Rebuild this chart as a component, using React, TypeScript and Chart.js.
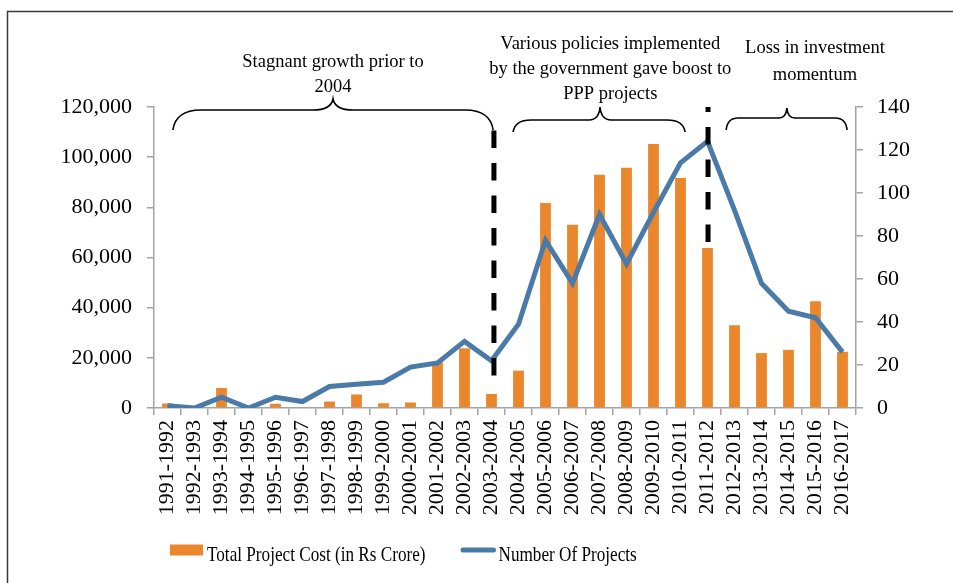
import React, { useEffect, useRef } from 'react';
import { Chart, registerables } from 'chart.js';

Chart.register(...registerables);

const categories = [
  '1991-1992', '1992-1993', '1993-1994', '1994-1995', '1995-1996', '1996-1997',
  '1997-1998', '1998-1999', '1999-2000', '2000-2001', '2001-2002', '2002-2003',
  '2003-2004', '2004-2005', '2005-2006', '2006-2007', '2007-2008', '2008-2009',
  '2009-2010', '2010-2011', '2011-2012', '2012-2013', '2013-2014', '2014-2015',
  '2015-2016', '2016-2017',
];

const projectCost = [
  1800, 0, 8000, 0, 1700, 0, 2600, 5400, 1900, 2200, 18300, 23800,
  5600, 14900, 81700, 73100, 93000, 95800, 105200, 91700, 63800, 33000,
  21900, 23200, 42600, 22400,
];

const projectCount = [
  1, 0, 5, 0, 5, 3, 10, 11, 12, 19, 21, 31,
  22, 39, 78, 58, 90, 67, 91, 114, 124, 92,
  58, 45, 42, 26,
];

const seriesLabels = ['Total Project Cost (in Rs Crore)', 'Number Of Projects'];

// Annotation texts (category position of centre, baseline offset above plot top)
const noteLines = [
  { text: 'Stagnant growth prior to', at: 6.13, dy: -40 },
  { text: '2004', at: 6.13, dy: -15 },
  { text: 'Various policies implemented', at: 16.4, dy: -58 },
  { text: 'by the government gave boost to', at: 16.4, dy: -33 },
  { text: 'PPP projects', at: 16.4, dy: -8 },
  { text: 'Loss in investment', at: 23.98, dy: -54 },
  { text: 'momentum', at: 23.98, dy: -27 },
];

// Braces: [start, tip, end] in category units; pixel offsets from plot top
const braces = [
  { from: 0.2, tip: 6.13, to: 12.06, tipY: -8, flatY: 3, endY: 23, rEnd: 28, rTip: 20 },
  { from: 12.8, tip: 16.02, to: 19.17, tipY: 0, flatY: 13, endY: 25, rEnd: 18, rTip: 11 },
  { from: 20.69, tip: 22.94, to: 25.17, tipY: 1, flatY: 11, endY: 23, rEnd: 12, rTip: 8 },
];

// Dashed separators: category position, top/bottom values on the cost axis
const separators = [
  { at: 12.09, top: 110600, bottom: 12300, offset: 0 },
  { at: 20.02, top: 120000, bottom: 66200, offset: 12.5 },
];

const FONT = "'Liberation Serif', 'Times New Roman', serif";
const BAR_COLOR = '#EA862B';
const LINE_COLOR = '#4A7AA8';
const AXIS_COLOR = '#A3A3A3';
const LEGEND_SQUEEZE = 0.78;

function condensedText(ctx: CanvasRenderingContext2D, text: string, x: number, y: number) {
  ctx.save();
  ctx.translate(x, y);
  ctx.scale(LEGEND_SQUEEZE, 1);
  ctx.fillText(text, 0, 0);
  ctx.restore();
  return ctx.measureText(text).width * LEGEND_SQUEEZE;
}

const decorPlugin = {
  id: 'decor',
  afterDatasetsDraw(chart: any) {
    const { ctx, chartArea, scales } = chart;
    const x = scales.x;
    const y = scales.y;
    ctx.save();
    // dashed separators
    ctx.strokeStyle = '#000';
    ctx.lineWidth = 5;
    ctx.lineCap = 'butt';
    ctx.setLineDash([17.5, 15]);
    for (const s of separators) {
      const px = x.getPixelForValue(s.at);
      ctx.lineDashOffset = s.offset;
      ctx.beginPath();
      ctx.moveTo(px, y.getPixelForValue(s.top));
      ctx.lineTo(px, y.getPixelForValue(s.bottom));
      ctx.stroke();
    }
    ctx.setLineDash([]);

    // braces
    ctx.strokeStyle = '#000';
    ctx.lineWidth = 1.6;
    for (const b of braces) {
      const x1 = x.getPixelForValue(b.from);
      const xm = x.getPixelForValue(b.tip);
      const x2 = x.getPixelForValue(b.to);
      const ty = chartArea.top + b.tipY;
      const fy = chartArea.top + b.flatY;
      const ey = chartArea.top + b.endY;
      ctx.beginPath();
      ctx.moveTo(x1, ey);
      ctx.quadraticCurveTo(x1 + b.rEnd * 0.1, fy, x1 + b.rEnd, fy);
      ctx.lineTo(xm - b.rTip, fy);
      ctx.quadraticCurveTo(xm - b.rTip * 0.1, fy, xm, ty);
      ctx.quadraticCurveTo(xm + b.rTip * 0.1, fy, xm + b.rTip, fy);
      ctx.lineTo(x2 - b.rEnd, fy);
      ctx.quadraticCurveTo(x2 - b.rEnd * 0.1, fy, x2, ey);
      ctx.stroke();
    }

    // notes
    ctx.fillStyle = '#000';
    ctx.font = `18.5px ${FONT}`;
    ctx.textAlign = 'center';
    ctx.textBaseline = 'alphabetic';
    for (const n of noteLines) {
      ctx.fillText(n.text, x.getPixelForValue(n.at), chartArea.top + n.dy);
    }

    // legend
    const ds = chart.data.datasets;
    ctx.font = `22px ${FONT}`;
    ctx.textAlign = 'left';
    const ly = 550;
    let lx = 170;
    ctx.fillStyle = ds[0].backgroundColor;
    ctx.fillRect(lx, ly - 5.5, 33, 11);
    ctx.fillStyle = '#000';
    const w0 = condensedText(ctx, ds[0].label, lx + 37, 561);
    lx = lx + 37 + w0 + 35;
    ctx.strokeStyle = ds[1].borderColor;
    ctx.lineWidth = 5;
    ctx.lineCap = 'round';
    ctx.beginPath();
    ctx.moveTo(lx + 2.5, ly);
    ctx.lineTo(lx + 33, ly);
    ctx.stroke();
    ctx.fillStyle = '#000';
    condensedText(ctx, ds[1].label, lx + 38, 561);

    // outer frame
    ctx.strokeStyle = '#3a3a3a';
    ctx.lineWidth = 1.5;
    ctx.lineCap = 'butt';
    ctx.beginPath();
    ctx.moveTo(7.5, chart.height);
    ctx.lineTo(7.5, 11.5);
    ctx.lineTo(chart.width, 11.5);
    ctx.stroke();
    ctx.restore();
  },
};

export default function App() {
  const ref = useRef<HTMLCanvasElement>(null);

  useEffect(() => {
    const tickFont = { family: FONT, size: 22 };
    const chart = new Chart(ref.current as HTMLCanvasElement, {
      type: 'bar',
      data: {
        labels: categories,
        datasets: [
          {
            type: 'bar',
            label: seriesLabels[0],
            data: projectCost,
            backgroundColor: BAR_COLOR,
            borderWidth: 0,
            yAxisID: 'y',
            barPercentage: 0.4,
            categoryPercentage: 1,
            order: 1,
          },
          {
            type: 'line',
            label: seriesLabels[1],
            data: projectCount,
            borderColor: LINE_COLOR,
            backgroundColor: LINE_COLOR,
            borderWidth: 5,
            pointRadius: 0,
            tension: 0,
            borderJoinStyle: 'miter',
            yAxisID: 'y1',
            order: 0,
          },
        ] as any,
      },
      options: {
        responsive: false,
        animation: false,
        layout: { padding: { top: 107, left: 0, right: 0, bottom: 0 } },
        plugins: {
          legend: { display: false },
          tooltip: { enabled: false },
          title: { display: false },
        },
        scales: {
          x: {
            offset: true,
            grid: {
              display: true,
              offset: true,
              drawOnChartArea: false,
              drawTicks: true,
              tickLength: 7,
              color: AXIS_COLOR,
              lineWidth: 1.5,
            },
            border: { display: true, color: AXIS_COLOR, width: 1.5 },
            ticks: {
              autoSkip: false,
              minRotation: 90,
              maxRotation: 90,
              padding: 5,
              color: '#000',
              font: tickFont,
            },
            afterFit: (s: any) => {
              s.height = 175;
            },
          },
          y: {
            position: 'left',
            min: 0,
            max: 120000,
            grid: {
              drawOnChartArea: false,
              drawTicks: true,
              tickLength: 7,
              color: AXIS_COLOR,
              lineWidth: 1.5,
            },
            border: { display: true, color: AXIS_COLOR, width: 1.5 },
            ticks: {
              stepSize: 20000,
              padding: 15,
              color: '#000',
              font: tickFont,
              callback: (v: any) => Number(v).toLocaleString('en-US'),
            },
            afterFit: (s: any) => {
              s.width = 154;
            },
          },
          y1: {
            position: 'right',
            min: 0,
            max: 140,
            grid: {
              drawOnChartArea: false,
              drawTicks: true,
              tickLength: 7,
              color: AXIS_COLOR,
              lineWidth: 1.5,
            },
            border: { display: true, color: AXIS_COLOR, width: 1.5 },
            ticks: {
              stepSize: 20,
              padding: 14,
              color: '#000',
              font: tickFont,
            },
            afterFit: (s: any) => {
              s.width = 97;
            },
          },
        },
      } as any,
      plugins: [decorPlugin],
    });
    return () => chart.destroy();
  }, []);

  return (
    <div style={{ position: 'absolute', left: 0, top: 0, width: 953, height: 583, background: '#fff' }}>
      <canvas ref={ref} width={953} height={583} style={{ display: 'block' }} />
    </div>
  );
}
